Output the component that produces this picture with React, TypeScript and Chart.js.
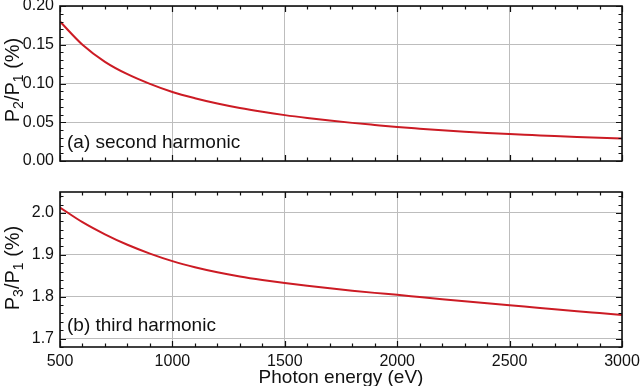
import React, { useEffect, useRef } from "react";
import { Chart, registerables } from "chart.js";

Chart.register(...registerables);

const FONT = '"Liberation Sans", Arial, Helvetica, sans-serif';

// Photon energy (eV)
const energies = [
  500, 600, 700, 800, 900, 1000, 1100, 1200, 1300, 1400, 1500, 1600, 1700,
  1800, 1900, 2000, 2100, 2200, 2300, 2400, 2500, 2600, 2700, 2800, 2900, 3000,
];
// P2/P1 (%)
const p2Ratio = [
  0.18, 0.15, 0.128, 0.112, 0.0995, 0.089, 0.081, 0.0742, 0.0684, 0.0635,
  0.0592, 0.0555, 0.0522, 0.0492, 0.0465, 0.0439, 0.0417, 0.0396, 0.0378,
  0.0362, 0.0348, 0.0335, 0.0322, 0.031, 0.0299, 0.0289,
];
// P3/P1 (%)
const p3Ratio = [
  2.013, 1.978, 1.949, 1.924, 1.903, 1.885, 1.8705, 1.8585, 1.8485, 1.84,
  1.8325, 1.826, 1.82, 1.8143, 1.8092, 1.8045, 1.7993, 1.7942, 1.7892, 1.7843,
  1.7795, 1.7748, 1.7701, 1.7655, 1.761, 1.7565,
];

const xTicks = [500, 1000, 1500, 2000, 2500, 3000];
const p2Ticks = [0, 0.05, 0.1, 0.15, 0.2];
const p3Ticks = [1.7, 1.8, 1.9, 2.0];

const xTitle = "Photon energy (eV)";
const labelA = "(a) second harmonic";
const labelB = "(b) third harmonic";

type PanelCfg = {
  yMinorStep: number;
  yMajorEvery: number;
  sub: string;
  label: string;
  labelY: number;
  titleCenter: number;
  xTitle?: string;
};

function framePlugin(cfg: PanelCfg) {
  return {
    id: "frame",
    afterDraw(chart: any) {
      const { ctx, chartArea: a, scales } = chart;
      const xs = scales.x;
      const ys = scales.y;
      ctx.save();
      ctx.strokeStyle = "#111";
      ctx.lineWidth = 1.2;
      // x ticks (inward, top and bottom)
      for (let i = 5; i <= 30; i++) {
        const px = Math.round(xs.getPixelForValue(i * 100)) + 0.5;
        const len = i % 5 === 0 ? 6 : 3.5;
        ctx.beginPath();
        ctx.moveTo(px, a.bottom);
        ctx.lineTo(px, a.bottom - len);
        ctx.moveTo(px, a.top);
        ctx.lineTo(px, a.top + len);
        ctx.stroke();
      }
      // y ticks (inward, left and right)
      const s = cfg.yMinorStep;
      const i0 = Math.ceil(ys.min / s - 1e-6);
      const i1 = Math.floor(ys.max / s + 1e-6);
      for (let i = i0; i <= i1; i++) {
        const py = Math.round(ys.getPixelForValue(i * s)) + 0.5;
        const len = i % cfg.yMajorEvery === 0 ? 6 : 3.5;
        ctx.beginPath();
        ctx.moveTo(a.left, py);
        ctx.lineTo(a.left + len, py);
        ctx.moveTo(a.right, py);
        ctx.lineTo(a.right - len, py);
        ctx.stroke();
      }
      // frame
      ctx.lineWidth = 1.6;
      ctx.strokeRect(a.left, a.top, a.right - a.left, a.bottom - a.top);

      // y-axis title with subscripts
      ctx.fillStyle = "#111";
      const big = "20px " + FONT;
      const small = "14px " + FONT;
      const parts: [string, boolean][] = [
        ["P", false],
        [cfg.sub, true],
        ["/P", false],
        ["1", true],
        [" (%)", false],
      ];
      let total = 0;
      for (const [t, isSub] of parts) {
        ctx.font = isSub ? small : big;
        total += ctx.measureText(t).width;
      }
      ctx.translate(19, cfg.titleCenter);
      ctx.rotate(-Math.PI / 2);
      ctx.textBaseline = "alphabetic";
      ctx.textAlign = "left";
      let cx = -total / 2;
      for (const [t, isSub] of parts) {
        ctx.font = isSub ? small : big;
        ctx.fillText(t, cx, isSub ? 4 : 0);
        cx += ctx.measureText(t).width;
      }
      ctx.setTransform(1, 0, 0, 1, 0, 0);

      // panel label
      ctx.font = "19px " + FONT;
      ctx.textAlign = "left";
      ctx.textBaseline = "alphabetic";
      ctx.fillText(cfg.label, 67, cfg.labelY);

      if (cfg.xTitle) {
        ctx.textAlign = "center";
        ctx.fillText(cfg.xTitle, (a.left + a.right) / 2, chart.height - 3);
      }
      ctx.restore();
    },
  };
}

function makeConfig(
  values: number[],
  yMin: number,
  yMax: number,
  yTicks: number[],
  decimals: number,
  showX: boolean,
  xHeight: number,
  padTop: number,
  cfg: PanelCfg
): any {
  const points = energies.map((e, i) => ({ x: e, y: values[i] }));
  return {
    type: "line",
    data: {
      datasets: [
        {
          data: points,
          borderColor: "#cc1b24",
          borderWidth: 2,
          pointRadius: 0,
          fill: false,
          cubicInterpolationMode: "monotone",
        },
      ],
    },
    options: {
      animation: false,
      responsive: false,
      maintainAspectRatio: false,
      layout: { padding: { top: padTop, right: 18, bottom: 0, left: 0 } },
      plugins: { legend: { display: false }, tooltip: { enabled: false } },
      scales: {
        x: {
          type: "linear",
          min: 500,
          max: 3000,
          afterBuildTicks: (s: any) => {
            s.ticks = xTicks.map((v) => ({ value: v }));
          },
          afterFit: (s: any) => {
            s.height = xHeight;
            s.paddingLeft = 0;
            s.paddingRight = 0;
          },
          border: { display: false },
          grid: { color: "#bdbdbd", lineWidth: 1, drawTicks: false, tickLength: 0 },
          ticks: {
            display: showX,
            autoSkip: false,
            maxRotation: 0,
            padding: 5,
            color: "#111",
            font: { size: 16, family: FONT },
            callback: (v: number) => String(v),
          },
        },
        y: {
          type: "linear",
          min: yMin,
          max: yMax,
          afterBuildTicks: (s: any) => {
            s.ticks = yTicks.map((v) => ({ value: v }));
          },
          afterFit: (s: any) => {
            s.width = 60;
            s.paddingTop = 0;
            s.paddingBottom = 0;
          },
          border: { display: false },
          grid: { color: "#bdbdbd", lineWidth: 1, drawTicks: false, tickLength: 0 },
          ticks: {
            padding: 6,
            color: "#111",
            font: { size: 16, family: FONT },
            callback: (v: number) => Number(v).toFixed(decimals),
          },
        },
      },
    },
    plugins: [framePlugin(cfg)],
  };
}

export default function App() {
  const refA = useRef<HTMLCanvasElement | null>(null);
  const refB = useRef<HTMLCanvasElement | null>(null);

  useEffect(() => {
    if (!refA.current || !refB.current) return;
    const a = new Chart(
      refA.current,
      makeConfig(p2Ratio, 0, 0.2, p2Ticks, 2, false, 11, 6, {
        yMinorStep: 0.01,
        yMajorEvery: 5,
        sub: "2",
        label: labelA,
        labelY: 148,
        titleCenter: 80,
      })
    );
    const b = new Chart(
      refB.current,
      makeConfig(p3Ratio, 1.68, 2.05, p3Ticks, 1, true, 39, 20, {
        yMinorStep: 0.02,
        yMajorEvery: 5,
        sub: "3",
        label: labelB,
        labelY: 159,
        titleCenter: 96,
        xTitle: xTitle,
      })
    );
    return () => {
      a.destroy();
      b.destroy();
    };
  }, []);

  return (
    <div
      style={{
        position: "absolute",
        left: 0,
        top: 0,
        width: 640,
        height: 386,
        background: "#fff",
      }}
    >
      <canvas
        ref={refA}
        width={640}
        height={172}
        style={{ display: "block", width: 640, height: 172 }}
      />
      <canvas
        ref={refB}
        width={640}
        height={214}
        style={{ display: "block", width: 640, height: 214 }}
      />
    </div>
  );
}
